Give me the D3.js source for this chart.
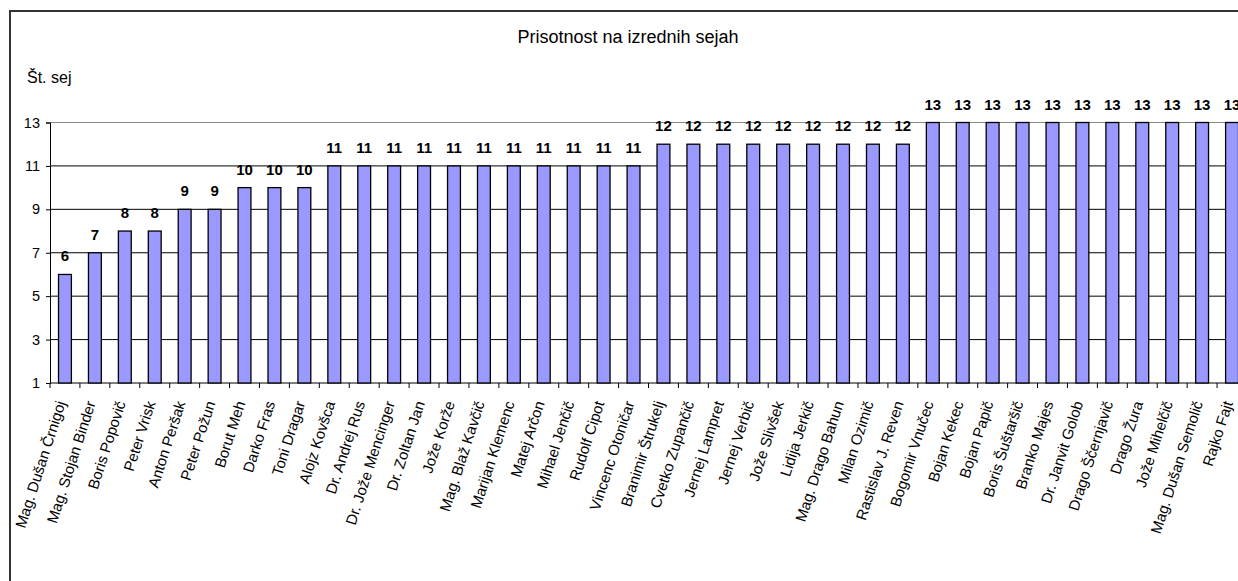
<!DOCTYPE html>
<meta charset="utf-8">
<style>
body{margin:0;background:#fff;}
text{font-family:"Liberation Sans",Arial,sans-serif;fill:#000;}
.grid line{stroke:#000;stroke-width:1;}
.bar{fill:#9999ff;stroke:#000;stroke-width:1.3;}
.val{font-weight:bold;font-size:15px;text-anchor:middle;}
.axis text{font-size:14.5px;}
</style>
<body>
<script src="https://cdn.jsdelivr.net/npm/d3@7/dist/d3.min.js"></script>
<script>

var names=["Mag. Dušan Črnigoj","Mag. Stojan Binder","Boris Popovič","Peter Vrisk","Anton Peršak","Peter Požun",
"Borut Meh","Darko Fras","Toni Dragar","Alojz Kovšca","Dr. Andrej Rus","Dr. Jože Mencinger","Dr. Zoltan Jan",
"Jože Korže","Mag. Blaž Kavčič","Marijan Klemenc","Matej Arčon","Mihael Jenčič","Rudolf Cipot","Vincenc Otoničar",
"Branimir Štrukelj","Cvetko Zupančič","Jernej Lampret","Jernej Verbič","Jože Slivšek","Lidija Jerkič",
"Mag. Drago Bahun","Milan Ozimič","Rastislav J. Reven","Bogomir Vnučec","Bojan Kekec","Bojan Papič",
"Boris Šuštaršič","Branko Majes","Dr. Janvit Golob","Drago Ščernjavič","Drago Žura","Jože Mihelčič",
"Mag. Dušan Semolič","Rajko Fajt"];
var values=[6,7,8,8,9,9,10,10,10,11,11,11,11,11,11,11,11,11,11,11,
12,12,12,12,12,12,12,12,12,13,13,13,13,13,13,13,13,13,13,13];
var yTicks=[1,3,5,7,9,11,13];

var W=1238,H=581;
var svg=d3.select("body").append("svg").attr("width",W).attr("height",H);

// outer frame (runs off the right and bottom edge)
svg.append("rect").attr("x",10).attr("y",11).attr("width",1300).attr("height",700)
	.attr("fill","none").attr("stroke","#333").attr("stroke-width",2);

var x=d3.scaleBand().domain(names).range([50,1247]).paddingInner(0.57).paddingOuter(0.285);
var y=d3.scaleLinear().domain([1,13]).range([383,122.5]);
var step=x.step();

svg.append("text").attr("x",628).attr("y",43).attr("text-anchor","middle")
	.style("font-size","18px").text("Prisotnost na izrednih sejah");
svg.append("text").attr("x",27).attr("y",83).style("font-size","16px").text("Št. sej");

// grid
var grid=svg.append("g").attr("class","grid");
grid.selectAll("line").data(yTicks.slice(1)).join("line")
	.attr("x1",50).attr("x2",1247).attr("y1",d=>y(d)).attr("y2",d=>y(d))
	.style("stroke",d=>d==13?"#888":"#000");

// y axis
var ya=svg.append("g").attr("class","axis").attr("transform","translate(50,0)")
	.call(d3.axisLeft(y).tickValues(yTicks).tickSize(4).tickPadding(6));
ya.select(".domain").attr("stroke","#000");

// x axis: ticks at category boundaries
var xa=svg.append("g").attr("transform","translate(0,"+y(1)+")");
xa.append("line").attr("x1",50).attr("x2",1247).attr("stroke","#000");
xa.selectAll(".tk").data(d3.range(names.length+1)).join("line").attr("class","tk")
	.attr("x1",i=>50+i*step).attr("x2",i=>50+i*step).attr("y1",0).attr("y2",5)
	.attr("stroke","#000");

svg.selectAll(".bar").data(values).join("rect").attr("class","bar")
	.attr("x",(d,i)=>x(names[i])).attr("width",x.bandwidth())
	.attr("y",d=>y(d)).attr("height",d=>y(1)-y(d));

svg.selectAll(".val").data(values).join("text").attr("class","val")
	.attr("x",(d,i)=>x(names[i])+x.bandwidth()/2).attr("y",d=>y(d)-13).text(d=>d);

svg.selectAll(".lbl").data(names).join("text").attr("class","lbl")
	.attr("text-anchor","end").style("font-size","15px")
	.attr("transform",d=>"translate("+(x(d)+x.bandwidth()/2+1)+","+(y(1)+20)+") rotate(-72)")
	.text(d=>d);

</script>
</body>
</html>
